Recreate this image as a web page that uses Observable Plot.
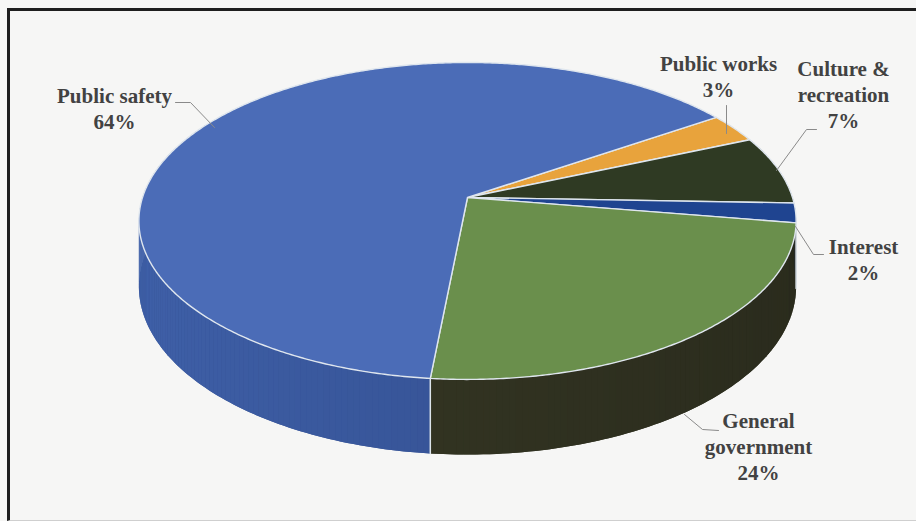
<!DOCTYPE html>
<html><head><meta charset="utf-8">
<script src="https://cdn.jsdelivr.net/npm/d3@7"></script>
<script src="https://cdn.jsdelivr.net/npm/@observablehq/plot@0.6"></script>
<style>
html,body{margin:0;padding:0;background:#f6f6f5;}
#chart{position:absolute;left:0;top:0;width:916px;height:521px;}
#frame{position:absolute;left:7px;top:8px;width:920px;height:509px;border-top:3px solid #1e1e1e;border-left:3px solid #1e1e1e;border-bottom:1px solid #cfcfcf;pointer-events:none;}
</style></head><body>
<div id="chart"></div><div id="frame"></div>
<script>
// ---- data ----
const categories = ["Public works", "Culture & recreation", "Interest", "General government", "Public safety"];
const values = [3, 7, 2, 24, 64];
const labelLines = [["Public works", "3%"], ["Culture &", "recreation", "7%"], ["Interest", "2%"], ["General", "government", "24%"], ["Public safety", "64%"]];

// ---- styles / layout ----
const topColors = ["#e8a33c", "#2f3a23", "#1f4490", "#6a8f4c", "#4b6cb7"];
const wallLight = ["#c98a2e", "#2a3320", "#1c3a78", "#383a25", "#3f60a8"];
const wallDark  = ["#b07822", "#20281a", "#152c5e", "#2a2b1d", "#2e4886"];
const CX = 467, CY = 197, A = 325, B = 155, K = 0.148, DEPTH = 64, START = 56;
const labelPos = [[718, 70], [843, 75], [863, 253], [758, 427], [114, 102]];
const leaders = [
  [[726, 105], [726, 133]],
  [[816, 129], [806, 129], [776, 170]],
  [[823, 254], [813, 254], [795, 226]],
  [[718, 430], [702, 429], [684, 414]],
  [[175, 102], [190, 102], [214, 127]]
];
const LINE_H = 26;

function proj(deg, drop = 0) {
  const t = deg * Math.PI / 180;
  const u = Math.sin(t), v = -Math.cos(t);
  const f = 1 / (1 - K * v);
  return [CX + A * u * f, CY + B * v * f + drop * f];
}

const total = d3.sum(values);
let acc = START;
const slices = values.map((v, i) => {
  const a0 = acc, a1 = acc + v / total * 360;
  acc = a1;
  return {i, name: categories[i], a0, a1};
});

// top faces
const topPts = [];
for (const s of slices) {
  topPts.push({id: s.i, x: CX, y: CY, fill: topColors[s.i]});
  const n = Math.max(2, Math.ceil((s.a1 - s.a0) / 0.5));
  for (let k = 0; k <= n; k++) {
    const [x, y] = proj(s.a0 + (s.a1 - s.a0) * k / n);
    topPts.push({id: s.i, x, y, fill: topColors[s.i]});
  }
  topPts.push({id: s.i, x: CX, y: CY, fill: topColors[s.i]});
}

// walls (front part only): solid base polygon + shaded quads on top
const W0 = 60, W1 = 300;
const basePts = [], wallPts = [];
let q = 0, bId = 0;
for (const s of slices) {
  for (const off of [0, 360]) {
    const lo = Math.max(s.a0 - off, W0), hi = Math.min(s.a1 - off, W1);
    if (hi <= lo) continue;
    const n = Math.max(1, Math.ceil((hi - lo) / 1));
    const topArc = [], botArc = [];
    for (let k = 0; k <= n; k++) {
      const a = lo + (hi - lo) * k / n;
      topArc.push(proj(a)); botArc.push(proj(a, DEPTH));
    }
    const mid = d3.interpolateRgb(wallDark[s.i], wallLight[s.i])(0.5);
    for (const p of [...topArc, ...botArc.reverse()]) basePts.push({id: bId, x: p[0], y: p[1], fill: mid});
    bId++;
    botArc.reverse();
    for (let k = 0; k < n; k++) {
      const b = lo + (hi - lo) * (k + 0.5) / n;
      const t = (1 - Math.sin(b * Math.PI / 180)) / 2;
      const col = d3.interpolateRgb(wallDark[s.i], wallLight[s.i])(t);
      for (const p of [topArc[k], topArc[k + 1], botArc[k + 1], botArc[k]]) wallPts.push({id: q, x: p[0], y: p[1], fill: col});
      q++;
    }
  }
}

// wall boundary lines
const edgePts = [];
slices.forEach((s, j) => {
  for (const a of [s.a0, s.a0 + 360, s.a0 - 360]) {
    if (a > 95 && a < 265) {
      const p = proj(a), b = proj(a, DEPTH);
      edgePts.push({id: j, x: p[0], y: p[1]}, {id: j, x: b[0], y: b[1]});
    }
  }
});

// labels
const labelRows = [];
labelLines.forEach((lines, i) => {
  lines.forEach((t, k) => labelRows.push({x: labelPos[i][0], y: labelPos[i][1] + k * LINE_H, text: t}));
});
const leaderPts = [];
leaders.forEach((pts, i) => pts.forEach(p => leaderPts.push({id: i, x: p[0], y: p[1]})));

const chart = Plot.plot({
  width: 916, height: 521,
  margin: 0,
  style: {background: "transparent", overflow: "visible"},
  x: {domain: [0, 916], range: [0, 916], axis: null},
  y: {domain: [0, 521], range: [0, 521], axis: null},
  marks: [
    Plot.line(basePts, {x: "x", y: "y", z: "id", fill: "fill", curve: "linear-closed"}),
    Plot.line(wallPts, {x: "x", y: "y", z: "id", fill: "fill", curve: "linear-closed"}),
    Plot.line(edgePts, {x: "x", y: "y", z: "id", stroke: "#dde4ea", strokeWidth: 1.5}),
    Plot.line(topPts, {x: "x", y: "y", z: "id", fill: "fill", stroke: "#dfe6ee", strokeWidth: 1.4, strokeLinejoin: "round"}),
    Plot.line(leaderPts, {x: "x", y: "y", z: "id", stroke: "#8a8a8a", strokeWidth: 1}),
    Plot.text(labelRows, {x: "x", y: "y", text: "text", fill: "#424242", fontSize: 21, fontWeight: "bold", fontFamily: "Liberation Serif, Times New Roman, serif", textAnchor: "middle", lineAnchor: "bottom"})
  ]
});
document.getElementById("chart").appendChild(chart);
</script>
</body></html>
